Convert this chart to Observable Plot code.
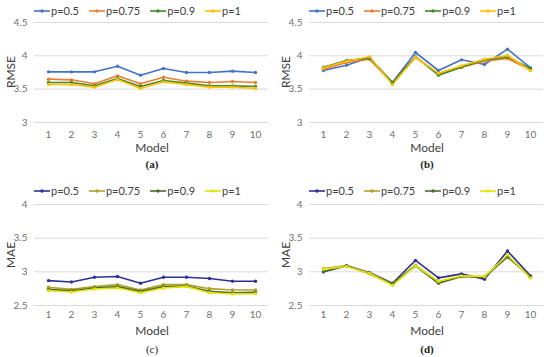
<!DOCTYPE html>
<html><head><meta charset="utf-8">
<script src="https://cdn.jsdelivr.net/npm/d3@7"></script>
<script src="https://cdn.jsdelivr.net/npm/@observablehq/plot@0.6"></script>
<style>
body{margin:0;background:#fff;font-family:Lato,"Liberation Sans",sans-serif;}
#root{position:relative;width:550px;height:357px;overflow:hidden;background:#fff;}
.panel{position:absolute;width:275px;height:179px;}
.panel svg.plot{position:absolute;left:0;}
.legend{position:absolute;left:0;width:275px;display:flex;justify-content:center;align-items:center;font-size:11px;color:#404040;line-height:12px;}
.legend .item{display:flex;align-items:center;margin:0 5px;}
.legend .item svg{margin-right:1px;}
.ylab{position:absolute;left:10px;font-size:12px;color:#404040;transform:translate(-50%,-50%) rotate(-90deg);white-space:nowrap;}
.xlab{position:absolute;left:152px;font-size:12px;color:#404040;transform:translate(-50%,-50%);white-space:nowrap;}
.cap{position:absolute;left:152px;font-size:11px;color:#222;transform:translate(-50%,-50%);font-family:"Liberation Serif",serif;white-space:nowrap;}
</style>
</head><body>
<div id="root"></div>
<script>
// Categories and series
const models = [1, 2, 3, 4, 5, 6, 7, 8, 9, 10];
const series = ["p=0.5", "p=0.75", "p=0.9", "p=1"];

// (a) RMSE
const rmseA = [
  [3.76, 3.76, 3.76, 3.845, 3.71, 3.81, 3.75, 3.75, 3.77, 3.75],
  [3.65, 3.64, 3.58, 3.70, 3.58, 3.68, 3.62, 3.60, 3.615, 3.60],
  [3.60, 3.60, 3.55, 3.66, 3.54, 3.63, 3.59, 3.55, 3.55, 3.54],
  [3.57, 3.57, 3.53, 3.645, 3.51, 3.61, 3.57, 3.53, 3.53, 3.51]
];
// (b) RMSE
const rmseB = [
  [3.78, 3.86, 3.975, 3.60, 4.05, 3.78, 3.94, 3.87, 4.10, 3.82],
  [3.80, 3.90, 3.95, 3.59, 3.985, 3.73, 3.83, 3.92, 3.96, 3.79],
  [3.83, 3.93, 3.965, 3.60, 3.985, 3.71, 3.83, 3.94, 3.985, 3.81],
  [3.82, 3.92, 3.985, 3.57, 3.975, 3.74, 3.85, 3.95, 4.005, 3.78]
];
// (c) MAE
const maeC = [
  [2.87, 2.85, 2.92, 2.93, 2.83, 2.92, 2.92, 2.90, 2.86, 2.86],
  [2.77, 2.74, 2.78, 2.81, 2.73, 2.81, 2.81, 2.75, 2.73, 2.73],
  [2.74, 2.72, 2.76, 2.78, 2.71, 2.78, 2.79, 2.71, 2.69, 2.695],
  [2.72, 2.70, 2.745, 2.76, 2.69, 2.76, 2.78, 2.69, 2.67, 2.675]
];
// (d) MAE
const maeD = [
  [3.00, 3.09, 2.99, 2.83, 3.17, 2.91, 2.97, 2.89, 3.31, 2.94],
  [3.05, 3.09, 2.985, 2.82, 3.10, 2.84, 2.93, 2.93, 3.235, 2.92],
  [3.00, 3.09, 2.97, 2.82, 3.09, 2.83, 2.93, 2.92, 3.22, 2.93],
  [3.04, 3.08, 2.975, 2.80, 3.09, 2.86, 2.94, 2.93, 3.25, 2.91]
];

// Tick labels
const rmseTicks = [3, 3.5, 4, 4.5];
const maeTicks = [2.5, 3, 3.5, 4];

// Colours
const colorsRMSE = ["#4472C4", "#ED7D31", "#3E8A2A", "#FFC000"];
const colorsMAE = ["#2E3192", "#B3A22A", "#4B6B2A", "#E3E300"];

const root = document.getElementById("root");

function makePanel(cfg) {
  const p = document.createElement("div");
  p.className = "panel";
  p.style.left = cfg.left + "px";
  p.style.top = cfg.top + "px";
  root.appendChild(p);

  // legend
  const lg = document.createElement("div");
  lg.className = "legend";
  lg.style.top = (cfg.legendY - 6) + "px";
  series.forEach((s, i) => {
    const it = document.createElement("div");
    it.className = "item";
    it.innerHTML = `<svg width="16" height="8"><line x1="0" x2="16" y1="4" y2="4" stroke="${cfg.colors[i]}" stroke-width="1.6"/><circle cx="8" cy="4" r="1.7" fill="${cfg.colors[i]}"/></svg><span>${s}</span>`;
    lg.appendChild(it);
  });
  p.appendChild(lg);

  const rows = [];
  series.forEach((s, i) => models.forEach((m, j) => rows.push({model: m, value: cfg.values[i][j], series: s})));

  const plotH = cfg.bottomY - cfg.topY;
  const svgTop = cfg.topY - 6;
  const chart = Plot.plot({
    width: 275,
    height: plotH + 6 + 20,
    marginTop: 6,
    marginBottom: 20,
    marginLeft: 34,
    marginRight: 7,
    style: {fontFamily: "Lato, 'Liberation Sans', sans-serif", fontSize: "10px", color: "#707070", background: "transparent"},
    x: {type: "point", domain: models, padding: 0.55, label: null, tickSize: 0, tickPadding: cfg.xPad},
    y: {domain: [cfg.ticks[0], cfg.ticks[cfg.ticks.length - 1]], ticks: cfg.ticks, tickFormat: d => String(d), label: null, tickSize: 0, tickPadding: 7},
    color: {domain: series, range: cfg.colors},
    marks: [
      Plot.ruleY(cfg.ticks, {stroke: "#d9d9d9", strokeWidth: 1}),
      Plot.line(rows, {x: "model", y: "value", z: "series", stroke: "series", strokeWidth: 1.6}),
      Plot.dot(rows, {x: "model", y: "value", fill: "series", r: 1.7})
    ]
  });
  chart.classList.add("plot");
  chart.style.top = svgTop + "px";
  p.appendChild(chart);

  const yl = document.createElement("div");
  yl.className = "ylab";
  yl.textContent = cfg.yLabel;
  yl.style.top = ((cfg.topY + cfg.bottomY) / 2) + "px";
  p.appendChild(yl);

  const xl = document.createElement("div");
  xl.className = "xlab";
  xl.textContent = "Model";
  xl.style.top = cfg.modelY + "px";
  p.appendChild(xl);

  const cap = document.createElement("div");
  cap.className = "cap";
  cap.textContent = cfg.caption;
  cap.style.top = cfg.capY + "px";
  cap.style.fontWeight = cfg.bold ? "bold" : "normal";
  p.appendChild(cap);
}

makePanel({left: 0, top: 0, values: rmseA, colors: colorsRMSE, ticks: rmseTicks, yLabel: "RMSE", caption: "(a)", bold: true,
  legendY: 11, topY: 22, bottomY: 122, xPad: 8, modelY: 147, capY: 164});
makePanel({left: 275, top: 0, values: rmseB, colors: colorsRMSE, ticks: rmseTicks, yLabel: "RMSE", caption: "(b)", bold: true,
  legendY: 11, topY: 22, bottomY: 122, xPad: 8, modelY: 147, capY: 164});
makePanel({left: 0, top: 178, values: maeC, colors: colorsMAE, ticks: maeTicks, yLabel: "MAE", caption: "(c)", bold: false,
  legendY: 13, topY: 26, bottomY: 127, xPad: 5, modelY: 152, capY: 171});
makePanel({left: 275, top: 178, values: maeD, colors: colorsMAE, ticks: maeTicks, yLabel: "MAE", caption: "(d)", bold: true,
  legendY: 13, topY: 26, bottomY: 127, xPad: 5, modelY: 152, capY: 171});
</script>
</body></html>
